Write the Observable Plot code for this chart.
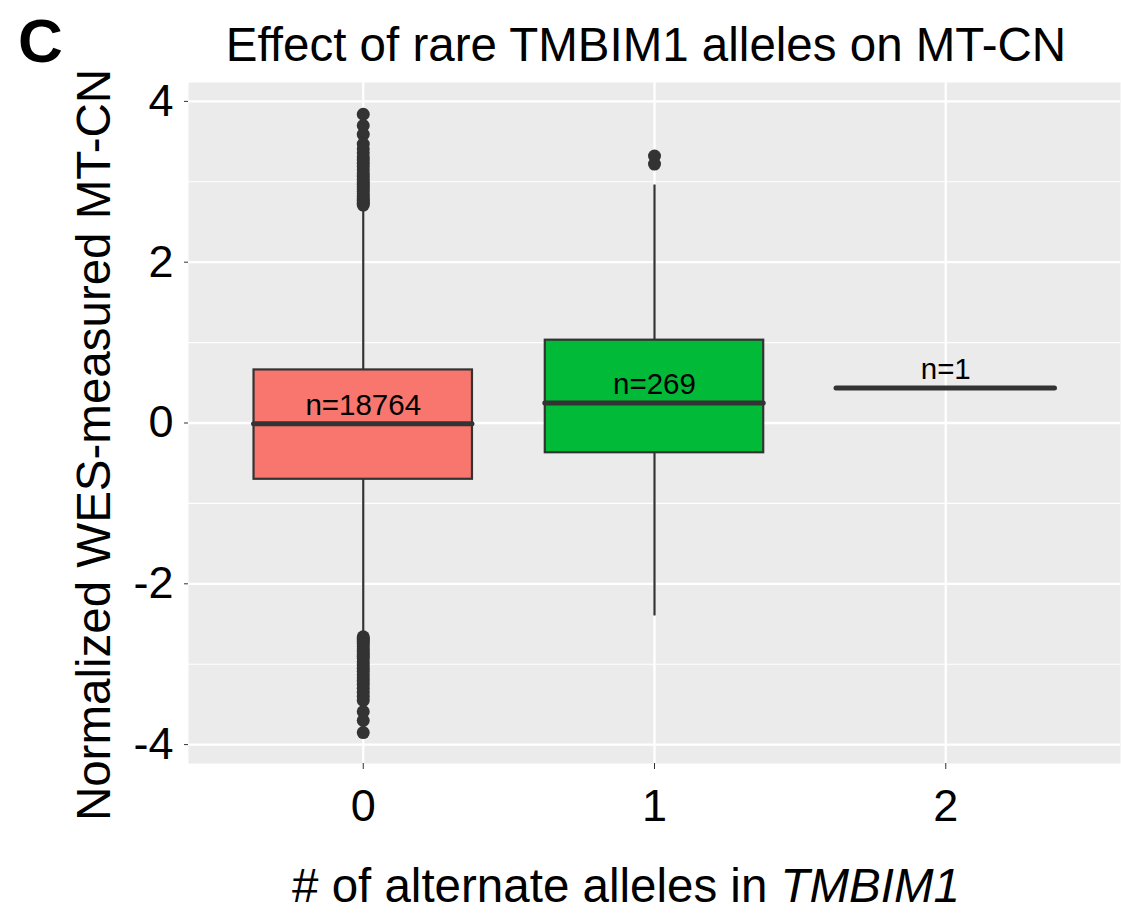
<!DOCTYPE html>
<html>
<head>
<meta charset="utf-8">
<script src="https://cdn.jsdelivr.net/npm/d3@7"></script>
<script src="https://cdn.jsdelivr.net/npm/@observablehq/plot@0.6"></script>
<style>
  html, body { margin: 0; padding: 0; background: #fff; }
  #chart svg { display: block; }
</style>
</head>
<body>
<div id="chart"></div>
<script>
// ---- data ----
const categories = [0, 1, 2];
const nLabels = ["n=18764", "n=269", "n=1"];
const lowerWhisker = [-2.65, -2.40, 0.435];
const q1 = [-0.70, -0.37, 0.435];
const median = [-0.01, 0.25, 0.435];
const q3 = [0.66, 1.03, 0.435];
const upperWhisker = [2.64, 2.96, 0.435];
const labelY = [0.22, 0.48, 0.66];
const boxFills = ["#F8766D", "#00BA38", "#619CFF"];

const outliers0 = [
  3.84, 3.70, 3.59, 3.47, 3.41, 3.36, 3.31, 3.27, 3.23, 3.19, 3.15, 3.11, 3.07, 3.03,
  3.00, 2.97, 2.94, 2.91, 2.88, 2.85, 2.82, 2.79, 2.77, 2.75, 2.73, 2.71,
  -2.66, -2.68, -2.70, -2.72, -2.75, -2.78, -2.81, -2.84, -2.87, -2.90, -2.93, -2.97,
  -3.01, -3.05, -3.09, -3.13, -3.17, -3.21, -3.25, -3.30, -3.35, -3.40, -3.45, -3.59, -3.70, -3.85
];
const outliers1 = [3.32, 3.22];

const yTicks = [-4, -2, 0, 2, 4];
const yMinor = [-3, -1, 1, 3];

// tables built from the arrays
const boxes = categories.map((c, i) => ({
  cat: c, lo: lowerWhisker[i], q1: q1[i], med: median[i], q3: q3[i], hi: upperWhisker[i],
  fill: boxFills[i], label: nLabels[i], ly: labelY[i]
}));
const realBoxes = boxes.filter(d => d.q3 > d.q1);
const outliers = [
  ...outliers0.map(v => ({cat: 0, value: v})),
  ...outliers1.map(v => ({cat: 1, value: v}))
];

const font = "'Liberation Sans', Arial, Helvetica, sans-serif";
const half = 0.375;

const chart = Plot.plot({
  width: 1121,
  height: 918,
  marginLeft: 188,
  marginRight: 1,
  marginTop: 82,
  marginBottom: 155,
  style: {fontFamily: font, background: "#fff", overflow: "visible"},
  x: {type: "linear", domain: [-0.6, 2.6]},
  y: {type: "linear", domain: [-4.235, 4.235]},
  marks: [
    Plot.frame({fill: "#EBEBEB", stroke: null}),
    Plot.ruleY(yMinor, {stroke: "#fff", strokeWidth: 1.1}),
    Plot.ruleY(yTicks, {stroke: "#fff", strokeWidth: 2.3}),
    Plot.ruleX(categories, {stroke: "#fff", strokeWidth: 2.3}),
    Plot.ruleX(realBoxes, {x: "cat", y1: "q3", y2: "hi", stroke: "#333", strokeWidth: 2.2}),
    Plot.ruleX(realBoxes, {x: "cat", y1: "lo", y2: "q1", stroke: "#333", strokeWidth: 2.2}),
    Plot.rect(realBoxes, {
      x1: d => d.cat - half, x2: d => d.cat + half, y1: "q1", y2: "q3",
      fill: "fill", stroke: "#333", strokeWidth: 2.2
    }),
    Plot.ruleY(boxes, {
      y: "med", x1: d => d.cat - half, x2: d => d.cat + half,
      stroke: "#333", strokeWidth: 5, strokeLinecap: "round"
    }),
    Plot.dot(outliers, {x: "cat", y: "value", r: 6.5, fill: "#333", stroke: null}),
    Plot.text(boxes, {
      x: "cat", y: "ly", text: "label", fontSize: 29.5, fill: "#000",
      textAnchor: "middle", lineAnchor: "middle"
    }),
    Plot.axisY({
      ticks: yTicks, tickSize: 4, tickPadding: 11, fontSize: 45,
      stroke: "#333", fill: "#000", label: null, tickFormat: d => String(d)
    }),
    Plot.axisX({
      ticks: categories, tickSize: 6, tickPadding: 20, fontSize: 45,
      stroke: "#333", fill: "#000", label: null, tickFormat: d => String(d)
    })
  ]
});

const svg = d3.select(chart);
svg.append("text")
  .attr("x", 18).attr("y", 62)
  .attr("font-family", font).attr("font-size", 62).attr("font-weight", "bold")
  .attr("text-anchor", "start")
  .attr("fill", "#000").text("C");
svg.append("text")
  .attr("x", 646).attr("y", 61)
  .attr("font-family", font).attr("font-size", 47.5)
  .attr("text-anchor", "middle").attr("fill", "#000")
  .text("Effect of rare TMBIM1 alleles on MT-CN");
svg.append("text")
  .attr("transform", "translate(110,445) rotate(-90)")
  .attr("font-family", font).attr("font-size", 47.5)
  .attr("text-anchor", "middle").attr("fill", "#000")
  .text("Normalized WES-measured MT-CN");
const xl = svg.append("text")
  .attr("x", 626).attr("y", 902)
  .attr("font-family", font).attr("font-size", 47.5)
  .attr("text-anchor", "middle").attr("fill", "#000");
xl.append("tspan").text("# of alternate alleles in ");
xl.append("tspan").attr("font-style", "italic").text("TMBIM1");

document.getElementById("chart").appendChild(chart);
</script>
</body>
</html>
